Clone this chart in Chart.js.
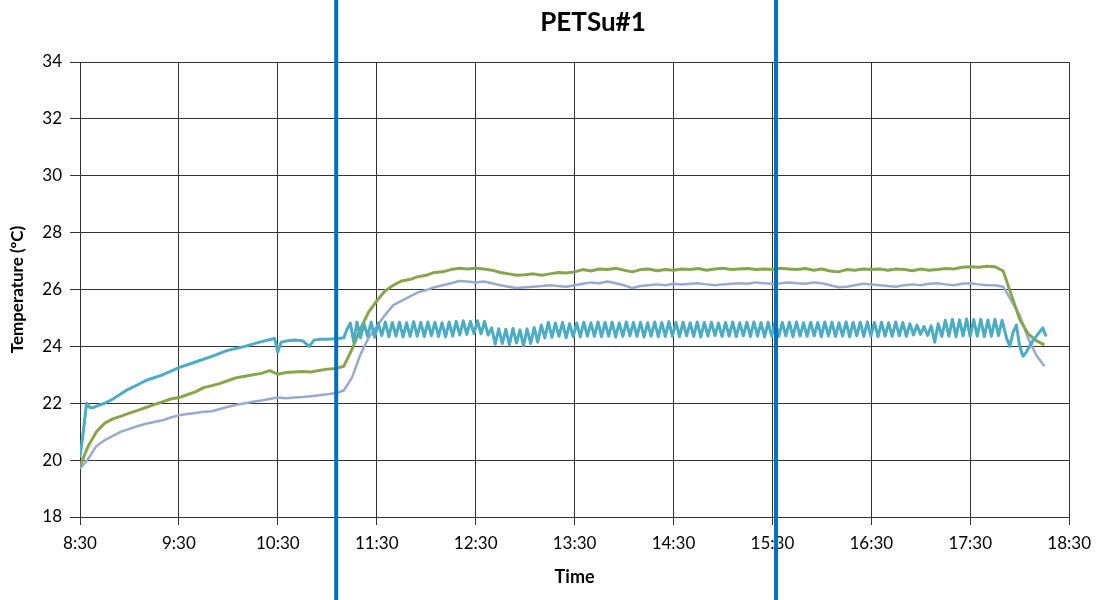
<!DOCTYPE html>
<html>
<head>
<meta charset="utf-8">
<title>PETSu#1</title>
<script src="https://cdn.jsdelivr.net/npm/chart.js@4.4.1/dist/chart.umd.min.js"></script>
<style>
  body { margin: 0; background: #fff; }
  #wrap { width: 1099px; height: 600px; }
</style>
</head>
<body>
<div id="wrap"><canvas id="myChart" width="1099" height="600"></canvas></div>
<script>
// time is minutes after midnight, 8:30 = 510
var chartTitle = 'PETSu#1';
var xTickLabels = ['8:30', '9:30', '10:30', '11:30', '12:30', '13:30', '14:30', '15:30', '16:30', '17:30', '18:30'];
var markerTimes = [665.4, 932.2];

// green and lavender sampled every 5 min from 8:30
var gridStart = 510;
var gridStep = 5;
var greenTemps = [
  19.8, 20.5, 21.0, 21.3, 21.45, 21.55, 21.65, 21.75, 21.85, 21.95,
  22.05, 22.15, 22.2, 22.3, 22.4, 22.55, 22.62, 22.7, 22.8, 22.9,
  22.95, 23.0, 23.05, 23.15, 23.02, 23.08, 23.1, 23.12, 23.1, 23.15,
  23.2, 23.22, 23.3, 23.9, 24.6, 25.2, 25.6, 25.95, 26.15, 26.3,
  26.35, 26.45, 26.5, 26.6, 26.62, 26.7, 26.75, 26.72, 26.75, 26.72,
  26.68, 26.6, 26.55, 26.5, 26.52, 26.55, 26.5, 26.55, 26.6, 26.58,
  26.62, 26.7, 26.65, 26.72, 26.7, 26.75, 26.68, 26.62, 26.7, 26.72,
  26.66, 26.7, 26.68, 26.72, 26.7, 26.74, 26.68, 26.72, 26.75, 26.7,
  26.72, 26.74, 26.7, 26.72, 26.7, 26.75, 26.72, 26.7, 26.74, 26.68,
  26.72, 26.65, 26.62, 26.7, 26.68, 26.72, 26.7, 26.72, 26.68, 26.72,
  26.7, 26.66, 26.72, 26.68, 26.7, 26.74, 26.72, 26.78, 26.8, 26.78,
  26.82, 26.8, 26.65, 25.8, 24.95, 24.45, 24.2, 24.05
];
var lavenderTemps = [
  19.7, 20.05, 20.5, 20.7, 20.85, 21.0, 21.1, 21.2, 21.28, 21.34,
  21.4, 21.5, 21.58, 21.62, 21.66, 21.7, 21.72, 21.8, 21.88, 21.95,
  22.0, 22.05, 22.1, 22.15, 22.2, 22.18, 22.2, 22.22, 22.25, 22.28,
  22.32, 22.35, 22.45, 22.9, 23.7, 24.3, 24.7, 25.1, 25.45, 25.6,
  25.75, 25.9, 25.98, 26.08, 26.15, 26.22, 26.3, 26.28, 26.25, 26.28,
  26.22, 26.15, 26.1, 26.05, 26.08, 26.1, 26.12, 26.15, 26.12, 26.1,
  26.15, 26.2, 26.25, 26.22, 26.28, 26.22, 26.15, 26.05, 26.12, 26.15,
  26.18, 26.15, 26.2, 26.18, 26.2, 26.22, 26.18, 26.15, 26.18, 26.2,
  26.22, 26.2, 26.25, 26.22, 26.2, 26.22, 26.25, 26.22, 26.2, 26.25,
  26.22, 26.15, 26.08, 26.1, 26.15, 26.2, 26.18, 26.15, 26.12, 26.1,
  26.15, 26.18, 26.15, 26.2, 26.22, 26.18, 26.15, 26.2, 26.22, 26.18,
  26.15, 26.15, 26.1, 25.6, 25.1, 24.3, 23.7, 23.3
];

// teal: warm-up part, oscillating part, end part
var tealEarlyTimes = [510, 512, 514, 516, 518, 520, 525, 530, 538, 545, 550, 560, 570, 580, 590, 599, 610, 619, 626, 628, 630, 632, 636, 640, 645, 649, 652, 656, 660, 667, 670, 672, 674, 676];
var tealEarlyTemps = [20.1, 21.0, 22.0, 21.85, 21.85, 21.9, 22.0, 22.15, 22.45, 22.65, 22.8, 23.0, 23.25, 23.45, 23.65, 23.85, 24.0, 24.15, 24.25, 24.28, 23.8, 24.15, 24.2, 24.22, 24.2, 24.0, 24.22, 24.25, 24.25, 24.28, 24.3, 24.6, 24.82, 24.15];
var tealWaveStart = 678;
var tealWaveStep = 2.15;
var tealWaveTemps = [
  24.85, 24.3, 24.8, 24.35, 24.85, 24.32, 24.82, 24.38, 24.86, 24.34,
  24.84, 24.36, 24.85, 24.33, 24.83, 24.35, 24.87, 24.36, 24.84, 24.34,
  24.86, 24.37, 24.85, 24.35, 24.83, 24.33, 24.86, 24.36, 24.88, 24.4,
  24.9, 24.42, 24.88, 24.45, 24.9, 24.44, 24.88, 24.4,
  24.65, 24.08, 24.62, 24.1, 24.6, 24.05, 24.63, 24.12, 24.58, 24.02,
  24.62, 24.1, 24.66, 24.15, 24.75,
  24.3, 24.85, 24.32, 24.82, 24.35, 24.84, 24.3, 24.8, 24.34, 24.82,
  24.33, 24.85, 24.36, 24.83, 24.35, 24.86, 24.34, 24.84, 24.36, 24.85,
  24.33, 24.82, 24.35, 24.86, 24.37, 24.84, 24.35, 24.85, 24.33, 24.83,
  24.36, 24.86, 24.34, 24.84, 24.35, 24.87, 24.36, 24.84, 24.34, 24.85,
  24.37, 24.83, 24.35, 24.86, 24.33, 24.84, 24.36, 24.85, 24.38, 24.82,
  24.35, 24.84, 24.36, 24.86, 24.34, 24.83, 24.37, 24.85, 24.35, 24.86,
  24.36, 24.84, 24.33, 24.85, 24.36, 24.87, 24.35, 24.84, 24.37, 24.85,
  24.34, 24.86, 24.36, 24.83, 24.35, 24.85, 24.37, 24.84, 24.34, 24.86,
  24.36, 24.85, 24.35, 24.83, 24.36, 24.86, 24.34, 24.84, 24.37, 24.85,
  24.35, 24.86, 24.36, 24.84, 24.34, 24.85, 24.36, 24.83, 24.35, 24.86,
  24.37, 24.84, 24.35, 24.8, 24.4, 24.75, 24.42, 24.7, 24.38, 24.72,
  24.15, 24.8,
  24.35, 24.92, 24.36, 24.95, 24.34, 24.93, 24.37, 24.96, 24.35, 24.94,
  24.36, 24.95, 24.34, 24.93, 24.36, 24.95, 24.38, 24.92
];
var tealTailTimes = [1072, 1074, 1076, 1078, 1080, 1082, 1084, 1086, 1088, 1090, 1092, 1094, 1096];
var tealTailTemps = [24.3, 24.0, 24.5, 24.75, 24.0, 23.65, 23.8, 24.0, 24.2, 24.35, 24.5, 24.65, 24.35];

function gridPoints(start, step, temps) {
  return temps.map(function (t, i) { return { x: start + i * step, y: t }; });
}
function pairPoints(times, temps) {
  return times.map(function (x, i) { return { x: x, y: temps[i] }; });
}

var tealPoints = pairPoints(tealEarlyTimes, tealEarlyTemps)
  .concat(gridPoints(tealWaveStart, tealWaveStep, tealWaveTemps))
  .concat(pairPoints(tealTailTimes, tealTailTemps));

var fontFamily = 'Lato, "Open Sans", sans-serif';
Chart.defaults.font.family = fontFamily;
Chart.defaults.color = '#000';

var overlay = {
  id: 'overlay',
  afterDatasetsDraw: function (chart) {
    var ctx = chart.ctx;
    var xs = chart.scales.x;
    ctx.save();
    ctx.strokeStyle = '#0070C0';
    ctx.lineWidth = 4;
    markerTimes.forEach(function (t) {
      var px = xs.getPixelForValue(t);
      ctx.beginPath();
      ctx.moveTo(px, 0);
      ctx.lineTo(px, chart.height);
      ctx.stroke();
    });
    ctx.restore();
  },
  afterDraw: function (chart) {
    var ctx = chart.ctx;
    ctx.save();
    ctx.fillStyle = '#000';
    ctx.font = 'bold 26px ' + fontFamily;
    ctx.textAlign = 'center';
    ctx.textBaseline = 'middle';
    ctx.fillText(chartTitle, 593, 23);
    ctx.restore();
  }
};

new Chart(document.getElementById('myChart'), {
  type: 'line',
  data: {
    datasets: [
      {
        label: 'teal',
        data: tealPoints,
        borderColor: '#4BACC6',
        borderWidth: 3
      },
      {
        label: 'green',
        data: gridPoints(gridStart, gridStep, greenTemps),
        borderColor: '#88A54C',
        borderWidth: 3
      },
      {
        label: 'lavender',
        data: gridPoints(gridStart, gridStep, lavenderTemps),
        borderColor: '#99AACE',
        borderWidth: 2.5
      }
    ]
  },
  options: {
    responsive: false,
    animation: false,
    parsing: false,
    elements: {
      point: { radius: 0 },
      line: { tension: 0, borderJoinStyle: 'round', fill: false }
    },
    layout: { padding: { top: 62, right: 27, left: 0, bottom: 0 } },
    plugins: {
      legend: { display: false },
      tooltip: { enabled: false },
      title: { display: false }
    },
    scales: {
      x: {
        type: 'linear',
        min: 510,
        max: 1110,
        afterFit: function (scale) { scale.height = 83; },
        afterBuildTicks: function (scale) {
          scale.ticks = xTickLabels.map(function (l, i) { return { value: 510 + i * 60 }; });
        },
        ticks: {
          font: { size: 17 },
          padding: 8,
          maxRotation: 0,
          callback: function (v, i) { return xTickLabels[i]; }
        },
        grid: { color: '#333', lineWidth: 1, tickLength: 8 },
        border: { color: '#333' },
        title: {
          display: true,
          text: 'Time',
          font: { size: 18, weight: 'bold' },
          padding: { top: 4, bottom: 12 }
        }
      },
      y: {
        min: 18,
        max: 34,
        afterFit: function (scale) { scale.width = 80; },
        ticks: { stepSize: 2, font: { size: 17 }, padding: 8 },
        grid: { color: '#333', lineWidth: 1, tickLength: 10 },
        border: { color: '#333' },
        title: {
          display: true,
          text: 'Temperature (ºC)',
          font: { size: 17, weight: 'bold' },
          padding: { top: 7, bottom: 4 }
        }
      }
    }
  },
  plugins: [overlay]
});
</script>
</body>
</html>
